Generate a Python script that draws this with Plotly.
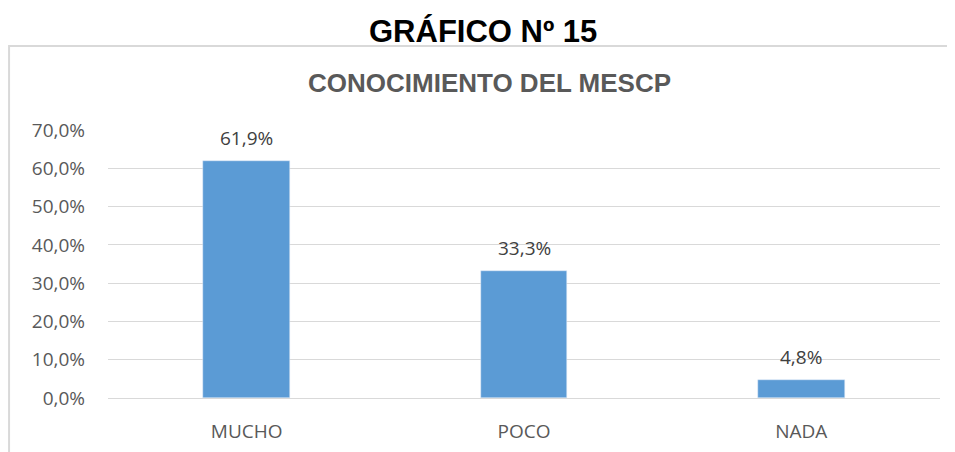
import plotly.graph_objects as go

categories = ["MUCHO", "POCO", "NADA"]
values = [0.619, 0.333, 0.048]
y_ticks = [0, 0.1, 0.2, 0.3, 0.4, 0.5, 0.6, 0.7]

# page body has an 8px default margin; figure coordinates are screen - 8
W, H = 947, 444
L, R, T, B = 100, 14.5, 122, 54
pw = W - L - R
ph = H - T - B

fig = go.Figure()
fig.add_trace(go.Bar(
    x=categories, y=values, marker_color="#5B9BD5", width=0.313,
    hoverinfo="x+y",
))

for c, v in zip(categories, values):
    fig.add_annotation(x=c, y=v, xref="x", yref="y",
                       text=f"{v*100:.1f}%".replace(".", ","),
                       showarrow=False, yanchor="bottom", yshift=8,
                       font=dict(family="Open Sans", size=19, color="#404040"))

fig.update_layout(
    width=W, height=H,
    margin=dict(l=L, r=R, t=T, b=B, autoexpand=False),
    paper_bgcolor="white", plot_bgcolor="white",
    separators=",.",
    showlegend=False,
    bargap=0,
    xaxis=dict(showgrid=False, showline=False, ticks="", automargin=False,
               tickfont=dict(family="Open Sans", size=19, color="#595959"),
               ticklabelstandoff=20),
    yaxis=dict(range=[0, 0.7], tickvals=y_ticks, tickformat=".1%", automargin=False,
               showgrid=True, gridcolor="#d9d9d9", gridwidth=1,
               zeroline=True, zerolinecolor="#d9d9d9", zerolinewidth=1,
               showline=False, ticks="",
               tickfont=dict(family="Open Sans", size=19, color="#595959"),
               ticklabelstandoff=22),
)

def px_x(x):
    return (x - L) / pw

def px_y(y):
    return (H - B - y) / ph

# chart-area frame: only the left and top edges are visible in the reference
bx0, bx1 = px_x(1), px_x(W + 40)
by0, by1 = px_y(H + 40), px_y(38)
fig.add_shape(type="path", xref="paper", yref="paper",
              path=f"M {bx0},{by0} L {bx0},{by1} L {bx1},{by1}",
              line=dict(color="#d9d9d9", width=2), layer="below")

fig.add_annotation(text="<b>GRÁFICO Nº 15</b>", xref="paper", yref="paper",
                   x=px_x(475), y=px_y(23), showarrow=False,
                   xanchor="center", yanchor="middle",
                   font=dict(family="Liberation Sans", size=31, color="#000000"))
fig.add_annotation(text="<b>CONOCIMIENTO DEL MESCP</b>", xref="paper", yref="paper",
                   x=px_x(482), y=px_y(75), showarrow=False,
                   xanchor="center", yanchor="middle",
                   font=dict(family="Liberation Sans", size=26, color="#595959"))

fig.write_html("out.html")
